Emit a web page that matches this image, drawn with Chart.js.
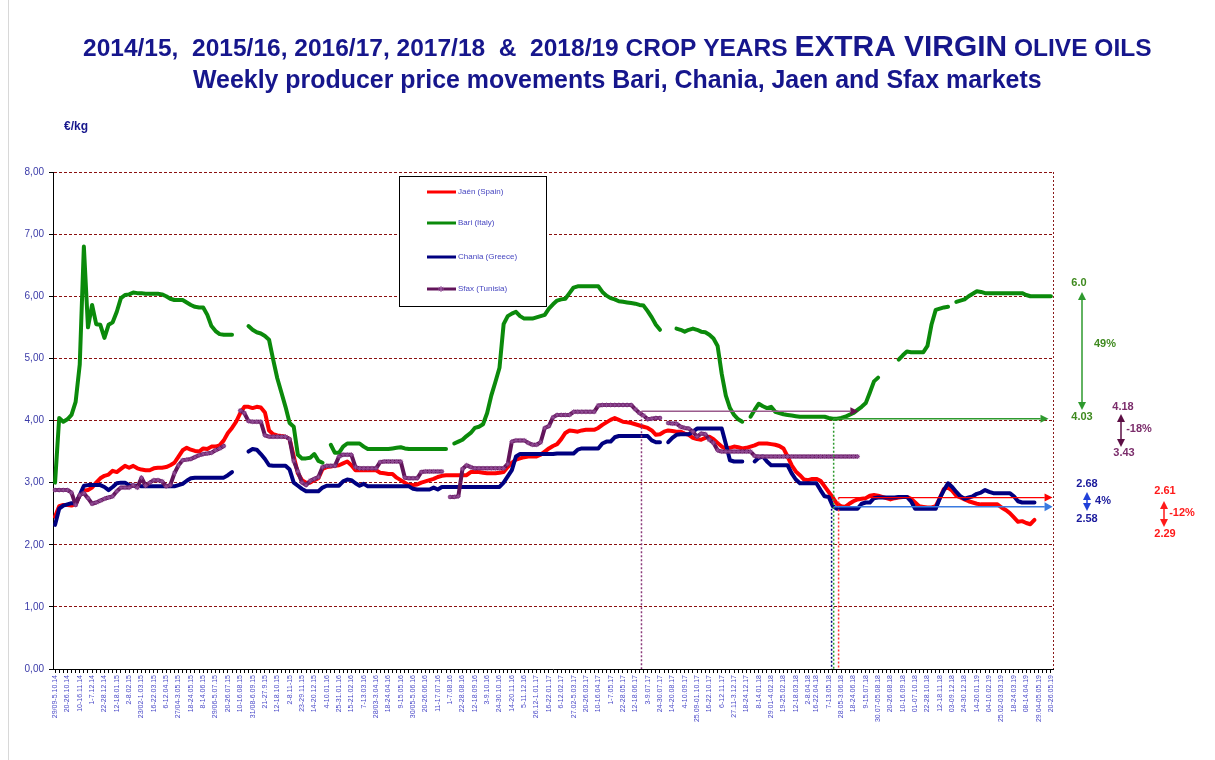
<!DOCTYPE html>
<html>
<head>
<meta charset="utf-8">
<script src="https://cdn.jsdelivr.net/npm/chart.js@4.4.1/dist/chart.umd.min.js"></script>
<style>
html,body{margin:0;padding:0;background:#fff;}
#wrap{position:relative;width:1215px;height:760px;}
canvas{display:block;}
</style>
</head>
<body>
<div id="wrap"><canvas id="c" width="1215" height="760"></canvas></div>
<script>
// ---- tick labels (every third week) ----
const tickLabels = [
"29/09-5.10.14","20-26.10.14","10-16.11.14","1-7.12.14","22-28.12.14","12-18.01.15","2-8.02.15","23/02-1.03.15","16-22.03.15","6-12.04.15",
"27/04-3.05.15","18-24.05.15","8-14.06.15","29/06-5.07.15","20-26.07.15","10-16.08.15","31/08-6.09.15","21-27.9.15","12-18.10.15","2-8.11-15",
"23-29.11.15","14-20.12.15","4-10.01.16","25-31.01.16","15-21.02.16","7-13.03.16","28/03-3.04.16","18-24.04.16","9-15.05.16","30/05-5.06.16",
"20-26.06.16","11-17.07.16","1-7.08.16","22-28.08.16","12-18.09.16","3-9.10.16","24-30.10.16","14-20.11.16","5-11.12.16","26.12-1.01.17",
"16-22.01.17","6-12.02.17","27.02-5.03.17","20-26.03.17","10-16.04.17","1-7.05.17","22-28.05.17","12-18.06.17","3-9.07.17","24-30.07.17",
"14-20.08.17","4-10.09.17","25.09-01.10.17","16-22.10.17","6-12.11.17","27.11-3.12.17","18-24.12.17","8-14.01.18","29.01-4.02.18","19-25.02.18",
"12-18.03.18","2-8.04.18","16-22.04.18","7-13.05.18","28.05-3.06.18","18-24.06.18","9-15.07.18","30.07-05.08.18","20-26.08.18","10-16.09.18",
"01-07.10.18","22-28.10.18","12-18.11.18","03-09.12.18","24-30.12.18","14-20.01.19","04-10.02.19","25.02-03.03.19","18-24.03.19","08-14.04.19",
"29.04-05.05.19","20-26.05.19"
];

// ---- weekly prices (€/kg) ----
const jaen = [
2.45,2.62,2.64,2.64,2.63,2.65,2.80,2.87,2.88,2.92,
3.00,3.07,3.11,3.13,3.19,3.17,3.22,3.27,3.24,3.27,
3.23,3.21,3.20,3.20,3.23,3.24,3.24,3.25,3.28,3.32,
3.42,3.52,3.56,3.53,3.51,3.50,3.55,3.54,3.58,3.58,
3.60,3.68,3.80,3.88,3.98,4.12,4.22,4.22,4.20,4.22,
4.21,4.13,3.84,3.78,3.76,3.75,3.74,3.70,3.42,3.15,
3.04,3.00,3.00,3.04,3.07,3.22,3.25,3.26,3.27,3.28,
3.31,3.34,3.28,3.20,3.20,3.20,3.20,3.20,3.20,3.16,
3.15,3.14,3.14,3.08,3.04,3.00,2.96,2.96,2.97,3.00,
3.02,3.04,3.06,3.09,3.11,3.12,3.12,3.12,3.12,3.12,
3.12,3.17,3.17,3.17,3.16,3.15,3.15,3.15,3.16,3.17,
3.25,3.32,3.37,3.39,3.41,3.42,3.42,3.42,3.45,3.50,
3.55,3.59,3.62,3.70,3.80,3.84,3.83,3.82,3.84,3.85,
3.85,3.85,3.88,3.93,3.97,4.01,4.04,4.01,3.98,3.97,
3.96,3.94,3.92,3.90,3.88,3.84,3.77,3.78,3.82,3.84,
3.83,3.82,3.82,3.79,3.77,3.72,3.70,3.69,3.72,3.74,
3.70,3.64,3.58,3.55,3.56,3.58,3.57,3.55,3.56,3.58,
3.60,3.63,3.63,3.63,3.62,3.61,3.59,3.55,3.42,3.28,
3.18,3.12,3.05,3.04,3.06,3.06,3.03,2.94,2.85,2.76,
2.66,2.62,2.61,2.66,2.70,2.73,2.74,2.75,2.79,2.80,
2.79,2.77,2.75,2.73,2.75,2.76,2.77,2.77,2.74,2.68,
2.62,2.61,2.60,2.60,2.62,2.75,2.90,2.92,2.87,2.79,
2.76,2.73,2.70,2.68,2.66,2.65,2.65,2.65,2.65,2.65,
2.60,2.56,2.51,2.44,2.37,2.38,2.35,2.33,2.40,null,
null,null,null
];
const bari = [
3.00,4.04,3.98,4.02,4.09,4.30,4.90,6.80,5.50,5.86,
5.55,5.54,5.33,5.54,5.58,5.75,5.97,6.02,6.03,6.06,
6.05,6.05,6.04,6.04,6.04,6.04,6.03,6.00,5.96,5.94,
5.94,5.94,5.90,5.86,5.83,5.82,5.82,5.70,5.52,5.44,
5.39,5.38,5.38,5.38,null,null,null,5.52,5.46,5.42,
5.40,5.36,5.30,4.98,4.68,4.45,4.22,3.96,3.90,3.45,
3.39,3.39,3.40,3.46,3.35,3.32,null,3.61,3.48,3.48,
3.58,3.63,3.63,3.63,3.63,3.58,3.54,3.54,3.54,3.54,
3.54,3.54,3.55,3.56,3.57,3.55,3.54,3.54,3.54,3.54,
3.54,3.54,3.54,3.54,3.54,3.54,null,3.63,3.66,3.69,
3.75,3.80,3.88,3.90,3.94,4.12,4.40,4.62,4.85,5.55,
5.68,5.72,5.75,5.68,5.64,5.64,5.64,5.66,5.68,5.70,
5.80,5.87,5.93,5.95,5.96,6.05,6.14,6.16,6.16,6.16,
6.16,6.16,6.16,6.07,6.01,5.97,5.95,5.92,5.91,5.90,
5.89,5.88,5.86,5.85,5.76,5.66,5.54,5.46,null,null,
null,5.48,5.46,5.43,5.46,5.48,5.46,5.43,5.42,5.38,
5.32,5.20,4.75,4.40,4.20,4.09,4.02,3.98,null,4.06,
4.17,4.27,4.23,4.20,4.22,4.14,4.12,4.10,4.09,4.08,
4.07,4.06,4.06,4.06,4.06,4.06,4.06,4.06,4.04,4.03,
4.03,4.04,4.06,4.09,4.12,4.17,4.22,4.28,4.45,4.63,
4.69,null,null,null,null,4.98,5.05,5.11,5.10,5.10,
5.10,5.10,5.20,5.55,5.78,5.80,5.82,5.83,null,5.91,
5.93,5.95,6.00,6.04,6.08,6.07,6.05,6.05,6.05,6.05,
6.05,6.05,6.05,6.05,6.05,6.05,6.02,6.00,6.00,6.00,
6.00,6.00,6.00
];
const chania = [
2.32,2.58,2.63,2.65,2.67,2.67,2.80,2.95,2.96,2.96,
2.96,2.96,2.93,2.88,2.93,2.99,3.00,3.00,2.96,2.95,
2.95,2.94,2.94,2.94,2.94,2.94,2.94,2.94,2.94,2.94,
2.96,2.98,3.03,3.07,3.08,3.08,3.08,3.08,3.08,3.08,
3.08,3.08,3.12,3.17,null,null,null,3.50,3.54,3.53,
3.46,3.38,3.28,3.27,3.27,3.27,3.27,3.21,3.00,2.95,
2.90,2.86,2.86,2.86,2.86,2.92,2.95,2.95,2.95,2.95,
3.02,3.05,3.04,2.99,2.95,2.98,2.94,2.94,2.94,2.94,
2.94,2.94,2.94,2.94,2.94,2.94,2.94,2.90,2.89,2.89,
2.89,2.89,2.92,2.89,2.93,2.93,2.93,2.93,2.93,2.93,
2.93,2.93,2.93,2.93,2.93,2.93,2.93,2.93,2.93,3.00,
3.10,3.20,3.42,3.46,3.46,3.46,3.46,3.46,3.46,3.46,
3.46,3.46,3.47,3.47,3.47,3.47,3.47,3.53,3.55,3.55,
3.55,3.55,3.55,3.63,3.66,3.66,3.73,3.75,3.75,3.75,
3.75,3.75,3.75,3.75,3.75,3.68,3.65,3.65,null,3.65,
3.72,3.77,3.78,3.78,3.78,3.82,3.87,3.87,3.87,3.87,
3.87,3.87,3.87,3.62,3.36,3.34,3.34,3.34,null,null,
3.34,3.40,3.42,3.34,3.28,3.28,3.28,3.28,3.28,3.15,
3.05,2.99,2.99,2.99,2.99,2.99,2.88,2.78,2.77,2.62,
2.58,2.58,2.58,2.58,2.58,2.58,2.66,2.68,2.68,2.75,
2.76,2.76,2.76,2.76,2.76,2.77,2.77,2.77,2.70,2.58,
2.58,2.58,2.58,2.58,2.58,2.75,2.88,2.99,2.93,2.85,
2.78,2.74,2.76,2.78,2.82,2.84,2.88,2.85,2.83,2.83,
2.83,2.83,2.83,2.78,2.70,2.68,2.68,2.68,2.68,null,
null,null,null
];
const sfax = [
2.88,2.88,2.88,2.88,2.84,2.64,2.80,2.83,2.75,2.66,
2.68,2.71,2.74,2.76,2.78,2.86,2.92,2.92,2.92,2.96,
2.92,3.08,2.95,3.00,3.04,3.04,3.02,2.94,2.96,3.15,
3.28,3.36,3.37,3.38,3.41,3.44,3.46,3.47,3.48,3.52,
3.55,3.59,null,null,null,4.16,4.12,3.99,3.98,3.98,
3.98,3.76,3.74,3.74,3.74,3.74,3.74,3.70,3.35,3.18,
3.00,2.96,3.03,3.06,3.09,3.25,3.27,3.27,3.27,3.42,
3.45,3.45,3.45,3.25,3.23,3.23,3.23,3.23,3.23,3.33,
3.34,3.34,3.34,3.34,3.34,3.08,3.07,3.07,3.07,3.17,
3.18,3.18,3.18,3.18,3.18,null,2.77,2.77,2.78,3.22,
3.28,3.25,3.23,3.23,3.23,3.23,3.23,3.23,3.23,3.23,
3.30,3.66,3.68,3.68,3.68,3.64,3.61,3.61,3.65,3.88,
3.91,4.05,4.09,4.09,4.09,4.09,4.14,4.14,4.14,4.14,
4.14,4.14,4.24,4.25,4.25,4.25,4.25,4.25,4.25,4.25,
4.25,4.18,4.12,4.08,4.02,4.03,4.04,4.04,null,3.96,
3.95,3.95,3.90,3.88,3.87,3.82,3.74,3.79,3.78,3.69,
3.64,3.52,3.50,3.50,3.50,3.50,3.50,3.50,3.50,3.50,
3.43,3.42,3.42,3.42,3.42,3.42,3.42,3.42,3.42,3.42,
3.42,3.42,3.42,3.42,3.42,3.42,3.42,3.42,3.42,3.42,
3.42,3.42,3.42,3.42,3.42,3.42,null,null,null,null,
null,null,null,null,null,null,null,null,null,null,
null,null,null,null,null,null,null,null,null,null,
null,null,null,null,null,null,null,null,null,null,
null,null,null,null,null,null,null,null,null,null,
null,null,null
];

const seriesNames = ["Jaén (Spain)","Bari (Italy)","Chania (Greece)","Sfax (Tunisia)"];
const yTicks = [0,1,2,3,4,5,6,7,8];

// build weekly category labels; tick labels sit every third week (one short interval in April 2018)
const N = jaen.length;
const weekLabels = new Array(N).fill('');
tickLabels.forEach((t,k)=>{ weekLabels[k <= 61 ? k*3 : k*3-1] = t; });

const FONT = "'Liberation Sans', Arial, sans-serif";
Chart.defaults.font.family = FONT;

function xAt(chart, f){
  const s = chart.scales.x;
  const a = s.getPixelForValue(0), b = s.getPixelForValue(1);
  return a + (b - a) * f;
}
function arrowHead(ctx, x, y, dir, len, half, color){
  ctx.save(); ctx.fillStyle = color; ctx.beginPath();
  if (dir === 'right'){ ctx.moveTo(x, y); ctx.lineTo(x-len, y-half); ctx.lineTo(x-len, y+half); }
  else if (dir === 'up'){ ctx.moveTo(x, y); ctx.lineTo(x-half, y+len); ctx.lineTo(x+half, y+len); }
  else { ctx.moveTo(x, y); ctx.lineTo(x-half, y-len); ctx.lineTo(x+half, y-len); }
  ctx.closePath(); ctx.fill(); ctx.restore();
}
function dLine(ctx, x1,y1,x2,y2,color,w,dash){
  ctx.save(); ctx.strokeStyle=color; ctx.lineWidth=w; ctx.setLineDash(dash||[]);
  ctx.beginPath(); ctx.moveTo(x1,y1); ctx.lineTo(x2,y2); ctx.stroke(); ctx.restore();
}
function dblArrow(ctx, x, yTop, yBot, color){
  dLine(ctx, x, yTop+6, x, yBot-6, color, 1.5);
  arrowHead(ctx, x, yTop, 'up', 8, 4, color);
  arrowHead(ctx, x, yBot, 'down', 8, 4, color);
}
function txt(ctx, s, x, y, color, font, align){
  ctx.save(); ctx.fillStyle=color; ctx.font=font; ctx.textAlign=align||'center'; ctx.textBaseline='middle';
  ctx.fillText(s, x, y); ctx.restore();
}
function star(ctx, x, y, r, color){
  ctx.save(); ctx.strokeStyle=color; ctx.lineWidth=1; ctx.beginPath();
  for (let k=0;k<4;k++){ const a=k*Math.PI/4; ctx.moveTo(x-r*Math.cos(a), y-r*Math.sin(a)); ctx.lineTo(x+r*Math.cos(a), y+r*Math.sin(a)); }
  ctx.stroke(); ctx.restore();
}

const overlay = {
  id: 'overlay',
  beforeDraw(chart){
    dLine(chart.ctx, 8.5, 0, 8.5, 760, '#d8d8d8', 1);
  },
  afterDatasetsDraw(chart){
    const ctx = chart.ctx, y = chart.scales.y, ca = chart.chartArea;
    dLine(ctx, ca.right+0.5, ca.top, ca.right+0.5, ca.bottom, '#8b1a1a', 1, [2,2]);
    // purple reference
    const xp = xAt(chart, 142.5), yp = y.getPixelForValue(4.15);
    dLine(ctx, xp, yp, xp, ca.bottom, '#8b3a7a', 1.5, [2,2]);
    dLine(ctx, xp, yp, xAt(chart, 193.2), yp, '#9a5a8c', 1.5);
    arrowHead(ctx, xAt(chart,195.2), yp, 'right', 8, 4, '#6a1050');
    // green reference
    const xg = xAt(chart, 189.2), yg = y.getPixelForValue(4.03);
    dLine(ctx, xg, yg, xg, ca.bottom, '#2e9a2e', 1.5, [2,2]);
    dLine(ctx, xg, yg, xAt(chart, 239.5), yg, '#2e9a2e', 1.5);
    arrowHead(ctx, xAt(chart,241.4), yg, 'right', 8, 4, '#2e9a2e');
    // navy reference
    const xb = xAt(chart, 188.7), yb = y.getPixelForValue(2.58);
    dLine(ctx, xb, yb, xb, ca.bottom, '#000080', 1.5, [2,2]);
    // red reference
    const xr = xAt(chart, 190.4), yr = y.getPixelForValue(2.76);
    dLine(ctx, xr, yr, xr, ca.bottom, '#ff3030', 1.5, [2,2]);
    dLine(ctx, xr, yr, xAt(chart, 240.5), yr, '#ff0000', 1.2);
    arrowHead(ctx, xAt(chart,242.4), yr, 'right', 8, 4, '#ff0000');
    // blue reference
    const yl = y.getPixelForValue(2.61);
    dLine(ctx, xAt(chart,189.3), yl, xAt(chart, 240.5), yl, '#3a7ae0', 1.5);
    arrowHead(ctx, xAt(chart,242.4), yl, 'right', 8, 4.5, '#3a7ae0');
  },
  afterDraw(chart){
    const ctx = chart.ctx;
    const navy = '#16168c';
    const parts = [
      {t:'2014/15,  2015/16, 2016/17, 2017/18  &  2018/19 CROP YEARS ', s:1},
      {t:'EXTRA VIRGIN', s:1.22},
      {t:' OLIVE OILS', s:1}
    ];
    const base = 20;
    let w = 0;
    parts.forEach(p=>{ ctx.font = 'bold '+(base*p.s)+'px '+FONT; w += ctx.measureText(p.t).width; });
    const k1 = 1069 / w;
    let x = 83;
    ctx.save(); ctx.fillStyle = navy; ctx.textBaseline='alphabetic';
    parts.forEach(p=>{ ctx.font = 'bold '+(base*p.s*k1)+'px '+FONT; ctx.fillText(p.t, x, 56); x += ctx.measureText(p.t).width; });
    const t2 = 'Weekly producer price movements Bari, Chania, Jaen and Sfax markets';
    ctx.font = 'bold 20px '+FONT;
    const k2 = 849 / ctx.measureText(t2).width;
    ctx.font = 'bold '+(20*k2)+'px '+FONT;
    ctx.fillText(t2, 193, 88);
    ctx.font = 'bold 12px '+FONT; ctx.textAlign='center';
    ctx.fillText('€/kg', 76, 130);
    ctx.restore();

    // legend box
    ctx.save();
    ctx.fillStyle='#fff'; ctx.fillRect(399.5,176.5,147,130);
    ctx.strokeStyle='#000'; ctx.lineWidth=1; ctx.strokeRect(399.5,176.5,147,130);
    const ds = chart.data.datasets;
    const ly = [192, 223, 257, 289];
    ds.forEach((d,i)=>{
      dLine(ctx, 427, ly[i], 456, ly[i], d.borderColor, 3);
      if (d.pointRadius) star(ctx, 441, ly[i], 3, d.pointBorderColor);
      txt(ctx, d.label, 458, ly[i], '#4646c0', '8px '+FONT, 'left');
    });
    ctx.restore();

    // right-hand change annotations
    const g='#3f8a1f', gA='#2e9a2e', p='#7b2d6b', pA='#5c0f45', b='#1a1a9c', bA='#2040d8', r='#ff1a1a';
    const bf = 'bold 11px '+FONT;
    txt(ctx,'6.0',1079,283,g,bf);
    dblArrow(ctx,1082,292,410,gA);
    txt(ctx,'49%',1105,344,g,bf);
    txt(ctx,'4.03',1082,417,g,bf);
    txt(ctx,'4.18',1123,407,p,bf);
    dblArrow(ctx,1121,414,447,pA);
    txt(ctx,'-18%',1139,429,p,bf);
    txt(ctx,'3.43',1124,453,p,bf);
    txt(ctx,'2.68',1087,484,b,bf);
    dblArrow(ctx,1087,492,511,bA);
    txt(ctx,'4%',1103,501,b,bf);
    txt(ctx,'2.58',1087,519,b,bf);
    txt(ctx,'2.61',1165,491,r,bf);
    dblArrow(ctx,1164,501,527,r);
    txt(ctx,'-12%',1182,513,r,bf);
    txt(ctx,'2.29',1165,534,r,bf);
  }
};

const common = { borderWidth: 4, pointRadius: 0, tension: 0, spanGaps: false, borderJoinStyle: 'round', borderCapStyle: 'round', fill: false };

new Chart(document.getElementById('c'), {
  type: 'line',
  data: {
    labels: weekLabels,
    datasets: [
      Object.assign({}, common, { label: seriesNames[0], data: jaen,   borderColor: '#ff0000', order: 4 }),
      Object.assign({}, common, { label: seriesNames[1], data: bari,   borderColor: '#0b8a0b', order: 3 }),
      Object.assign({}, common, { label: seriesNames[2], data: chania, borderColor: '#000080', order: 2 }),
      Object.assign({}, common, { label: seriesNames[3], data: sfax,   borderColor: '#62145a', order: 1,
        pointRadius: 2.5, pointStyle: 'star', pointBorderColor: '#94509a', pointBackgroundColor: '#94509a', pointBorderWidth: 0.8 })
    ]
  },
  options: {
    responsive: false,
    animation: false,
    events: [],
    layout: { padding: { top: 172, right: 162, left: 0, bottom: 0 } },
    plugins: { legend: { display: false }, title: { display: false }, tooltip: { enabled: false } },
    scales: {
      x: {
        type: 'category',
        offset: true,
        afterFit(s){ s.height = 91; },
        grid: { drawOnChartArea: false, drawTicks: true, tickLength: 4, color: '#000', offset: false },
        border: { display: true, color: '#000', width: 1 },
        ticks: { autoSkip: false, minRotation: 90, maxRotation: 90, padding: 2, color: '#4a4ac8', font: { size: 7 } }
      },
      y: {
        min: 0, max: 8,
        afterFit(s){ s.width = 53; },
        afterBuildTicks(s){ s.ticks = yTicks.map(v=>({value:v})); },
        grid: { color: '#8b1010', lineWidth: 1, tickLength: 4, tickColor: '#000' },
        border: { display: true, color: '#000', width: 1, dash: [3,2] },
        ticks: { padding: 5, color: '#3a3aa8', font: { size: 10 }, callback: v => v.toFixed(2).replace('.', ',') }
      }
    }
  },
  plugins: [overlay]
});
</script>
</body>
</html>
